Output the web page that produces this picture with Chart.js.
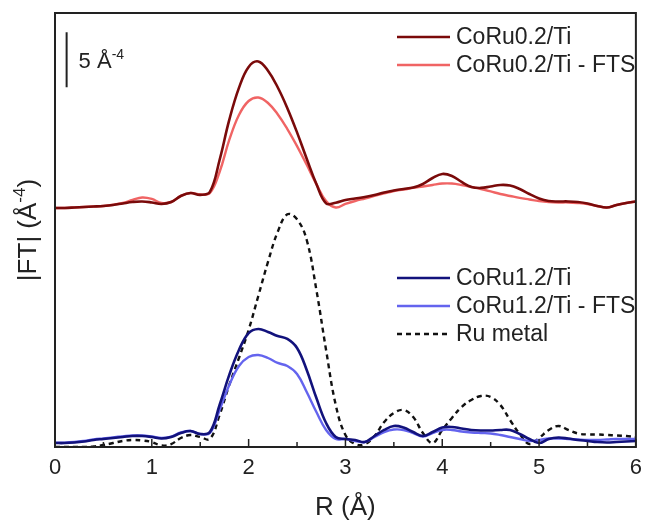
<!DOCTYPE html>
<html>
<head>
<meta charset="utf-8">
<script src="https://cdn.jsdelivr.net/npm/chart.js@4.4.1/dist/chart.umd.min.js"></script>
<style>
  html, body { margin: 0; padding: 0; background: #fff; }
  #wrap { width: 650px; height: 522px; }
</style>
</head>
<body>
<div id="wrap"><canvas id="ft" width="650" height="522"></canvas></div>
<script>
// R grid (Å)
const rValues = [0.0,0.1,0.2,0.3,0.4,0.5,0.6,0.7,0.8,0.9,
  1.0,1.1,1.2,1.3,1.4,1.5,1.6,1.7,1.8,1.9,
  2.0,2.1,2.2,2.3,2.4,2.5,2.6,2.7,2.8,2.9,
  3.0,3.1,3.2,3.3,3.4,3.5,3.6,3.7,3.8,3.9,
  4.0,4.1,4.2,4.3,4.4,4.5,4.6,4.7,4.8,4.9,
  5.0,5.1,5.2,5.3,5.4,5.5,5.6,5.7,5.8,5.9,6.0];

// |FT| values (Å^-4)
const coRu02 = [0.33,0.33,0.37,0.42,0.46,0.51,0.60,0.74,0.87,0.92,
  0.83,0.69,0.87,1.42,1.69,1.52,1.78,4.69,8.33,11.24,
  13.15,13.65,12.80,11.30,9.40,7.20,4.80,2.50,0.75,0.80,
  1.05,1.19,1.33,1.51,1.74,1.92,2.05,2.19,2.51,3.05,
  3.42,3.24,2.69,2.24,2.15,2.28,2.42,2.37,2.05,1.60,
  1.19,0.96,0.92,0.92,0.87,0.74,0.51,0.37,0.60,0.78,0.92];
const coRu02Fts = [0.33,0.33,0.37,0.42,0.46,0.51,0.62,0.78,1.05,1.28,
  1.15,0.78,0.87,1.42,1.69,1.55,1.69,3.60,6.51,8.78,
  10.05,10.37,9.87,8.85,7.50,5.95,4.25,2.50,0.95,0.37,
  0.69,0.96,1.19,1.42,1.65,1.87,2.00,2.15,2.28,2.42,
  2.55,2.55,2.42,2.24,2.05,1.83,1.60,1.42,1.24,1.10,
  0.96,0.87,0.83,0.83,0.78,0.69,0.51,0.37,0.60,0.78,0.92];
const coRu12 = [0.36,0.36,0.41,0.50,0.64,0.73,0.82,0.91,1.00,1.00,
  0.91,0.77,0.91,1.27,1.45,1.18,1.36,3.82,6.55,8.82,
  10.36,10.73,10.45,10.09,9.82,9.00,7.00,4.45,2.18,0.91,
  0.73,0.64,0.45,1.00,1.55,1.91,1.77,1.36,1.00,1.36,
  1.77,1.82,1.68,1.55,1.50,1.50,1.55,1.55,1.18,0.73,
  0.36,0.73,0.86,0.77,0.64,0.55,0.45,0.41,0.45,0.50,0.55];
const coRu12Fts = [0.40,0.40,0.45,0.55,0.68,0.78,0.88,0.97,1.05,1.05,
  0.95,0.82,0.95,1.32,1.45,1.18,1.27,3.36,5.64,7.36,
  8.18,8.36,8.09,7.64,7.36,6.64,5.00,3.18,1.55,0.73,
  0.73,0.55,0.45,0.91,1.36,1.59,1.55,1.27,0.95,1.27,
  1.55,1.55,1.41,1.32,1.27,1.23,1.09,0.91,0.73,0.55,
  0.64,0.77,0.77,0.73,0.68,0.64,0.64,0.68,0.73,0.73,0.73];
const ruMetal = [0.00,0.00,0.00,0.00,0.05,0.18,0.36,0.55,0.64,0.59,
  0.45,0.14,0.27,0.82,1.09,0.91,0.73,2.91,5.64,8.09,
  10.64,13.73,16.82,19.55,21.15,20.70,18.82,14.27,8.82,3.82,
  1.09,0.27,0.27,1.00,2.27,3.09,3.36,2.73,1.27,0.36,
  1.55,2.64,3.64,4.27,4.64,4.55,3.82,2.45,1.18,0.27,
  0.82,1.55,1.91,1.55,1.23,1.14,1.14,1.09,1.05,1.00,0.91];

const seriesLabels = ['CoRu0.2/Ti', 'CoRu0.2/Ti - FTS', 'CoRu1.2/Ti', 'CoRu1.2/Ti - FTS', 'Ru metal'];
const xTickLabels = ['0', '1', '2', '3', '4', '5', '6'];

// vertical shift of the upper pair of spectra
const topShift = 21.4;

const FONT = "'Liberation Sans', Arial, sans-serif";
const INK = '#222';

const pts = (ys, shift) => ys.map((y, i) => ({ x: rValues[i], y: y + shift }));

function line(label, data, color, width, dash) {
    return {
        label: label,
        data: data,
        borderColor: color,
        backgroundColor: color,
        borderWidth: width,
        borderDash: dash || [],
        pointRadius: 0,
        fill: false,
        tension: 0.4
    };
}

// draw text with a small raised "-4" part
function drawSuper(ctx, parts, x, y, align) {
    let total = 0;
    parts.forEach(p => { ctx.font = p.size + 'px ' + FONT; p.w = ctx.measureText(p.t).width; total += p.w; });
    let cx = align === 'center' ? x - total / 2 : x;
    parts.forEach(p => {
        ctx.font = p.size + 'px ' + FONT;
        ctx.fillText(p.t, cx, y - (p.rise || 0));
        cx += p.w;
    });
}

const decorations = {
    id: 'decorations',
    afterDraw(chart) {
        const ctx = chart.ctx, a = chart.chartArea;
        const xs = chart.scales.x, ys = chart.scales.y;
        ctx.save();

        // frame
        ctx.strokeStyle = INK;
        ctx.lineWidth = 2;
        ctx.strokeRect(a.left, a.top, a.right - a.left, a.bottom - a.top);

        // inward ticks on the bottom axis
        ctx.lineWidth = 1.5;
        for (let k = 0; k <= 12; k++) {
            const v = k / 2;
            const px = xs.getPixelForValue(v);
            const len = k % 2 === 0 ? 8 : 5;
            ctx.beginPath();
            ctx.moveTo(px, a.bottom);
            ctx.lineTo(px, a.bottom - len);
            ctx.stroke();
        }

        // 5 Å^-4 scale bar
        const bx = xs.getPixelForValue(0.12);
        ctx.lineWidth = 2;
        ctx.beginPath();
        ctx.moveTo(bx, ys.getPixelForValue(37.7));
        ctx.lineTo(bx, ys.getPixelForValue(32.7));
        ctx.stroke();
        ctx.fillStyle = INK;
        ctx.textBaseline = 'alphabetic';
        ctx.textAlign = 'left';
        drawSuper(ctx, [{ t: '5 Å', size: 22 }, { t: '-4', size: 14, rise: 9 }], bx + 12, 68, 'left');

        // y axis title
        ctx.save();
        ctx.translate(36, (a.top + a.bottom) / 2);
        ctx.rotate(-Math.PI / 2);
        drawSuper(ctx, [{ t: '|FT| (Å', size: 26 }, { t: '-4', size: 17, rise: 11 }, { t: ')', size: 26 }], 0, 0, 'center');
        ctx.restore();

        // legends
        const rows = [[0, 37], [1, 65], [2, 278], [3, 306], [4, 334]];
        ctx.textBaseline = 'middle';
        ctx.font = '23px ' + FONT;
        rows.forEach(([i, y]) => {
            const ds = chart.data.datasets[i];
            ctx.strokeStyle = ds.borderColor;
            ctx.lineWidth = ds.borderWidth;
            ctx.setLineDash(ds.borderDash);
            ctx.beginPath();
            ctx.moveTo(397, y);
            ctx.lineTo(450, y);
            ctx.stroke();
            ctx.setLineDash([]);
            ctx.fillStyle = INK;
            ctx.fillText(ds.label, 456, y + 1);
        });
        ctx.restore();
    }
};

new Chart(document.getElementById('ft'), {
    type: 'line',
    data: {
        datasets: [
            line(seriesLabels[0], pts(coRu02, topShift), '#7a0a0a', 2.6),
            line(seriesLabels[1], pts(coRu02Fts, topShift), '#f06464', 2.4),
            line(seriesLabels[2], pts(coRu12, 0), '#12127c', 2.6),
            line(seriesLabels[3], pts(coRu12Fts, 0), '#6464ee', 2.4),
            line(seriesLabels[4], pts(ruMetal, 0), '#111', 2.4, [5, 4])
        ]
    },
    options: {
        responsive: false,
        animation: false,
        devicePixelRatio: 1,
        layout: { padding: { top: 13, right: 6, left: 0, bottom: 0 } },
        plugins: { legend: { display: false }, tooltip: { enabled: false } },
        scales: {
            x: {
                type: 'linear',
                min: 0,
                max: 6,
                grid: { display: false, drawTicks: false },
                border: { display: false },
                ticks: {
                    stepSize: 0.5,
                    autoSkip: false,
                    maxRotation: 0,
                    padding: 8,
                    color: INK,
                    font: { family: FONT, size: 22 },
                    callback: v => Number.isInteger(v) ? xTickLabels[v] : ''
                },
                title: {
                    display: true,
                    text: 'R (Å)',
                    color: INK,
                    font: { family: FONT, size: 26, lineHeight: 1 },
                    padding: { top: 0, bottom: 1 }
                },
                afterFit: s => { s.height = 75; }
            },
            y: {
                min: 0,
                max: 39.45,
                grid: { display: false, drawTicks: false },
                border: { display: false },
                ticks: { display: false },
                afterFit: s => { s.width = 55; }
            }
        }
    },
    plugins: [decorations]
});
</script>
</body>
</html>
